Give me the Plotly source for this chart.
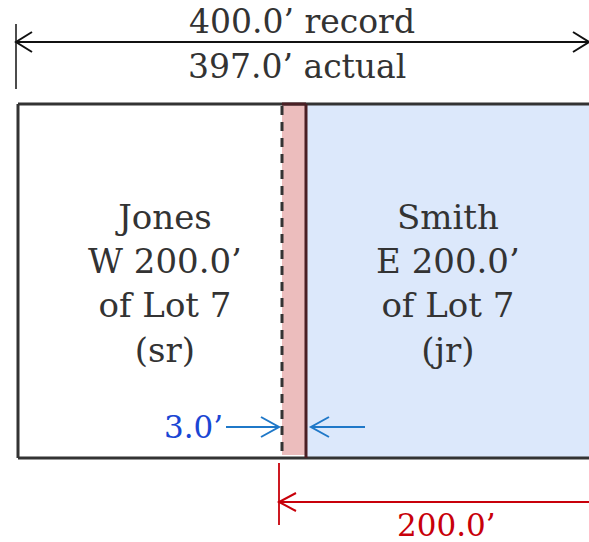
import plotly.graph_objects as go

# ---------------- content (values) ----------------
RECORD_WIDTH_FT = 400.0
ACTUAL_WIDTH_FT = 397.0
GAP_FT = 3.0
JUNIOR_MEASURE_FT = 200.0
OWNERS = ["Jones", "Smith"]
SIDES = ["W", "E"]
DEED_FT = [200.0, 200.0]
LOT_NUMBER = 7
PRIORITY = ["sr", "jr"]

# ---------------- diagram geometry (canvas units) ----------------
CANVAS_W, CANVAS_H = 589, 542
LOT_LEFT, LOT_RIGHT = 18, 610
LOT_TOP, LOT_BOTTOM = 104, 458
SENIOR_LINE_X = 282
JUNIOR_LINE_X = 306
OWNER_LABEL_X = [165, 448]
OWNER_LABEL_Y = 283

TOP_DIM_Y = 42
TOP_DIM_X = [16, 589]
TOP_TICK_Y = [24, 89]
BOT_DIM_Y = 502
BOT_DIM_X = [279, 600]
BOT_TICK_Y = [463, 525]
GAP_ARROW_Y = 427
GAP_LEFT_ARROW = [226, 279]
GAP_RIGHT_ARROW = [365, 311]

DARK = "#333333"
BROWN = "#4a1f24"
PINK = "#ecbdbd"
LIGHT_BLUE = "#dce8fb"
RED = "#c8000a"
BLUE_ARROW = "#1f78c8"
BLUE_TEXT = "#1a46d4"
FONT = "DejaVu Serif"
FS = 34

fig = go.Figure()
shapes = []


def line(x0, y0, x1, y1, color, width, dash="solid"):
    shapes.append(dict(type="line", xref="x", yref="y", x0=x0, y0=y0, x1=x1, y1=y1,
                       line=dict(color=color, width=width, dash=dash), layer="above"))


def head(tipx, tipy, direction, color, width, length=16, half=10):
    bx = tipx - direction * length
    shapes.append(dict(type="path", xref="x", yref="y",
                       path=f"M {bx},{tipy-half} L {tipx},{tipy} L {bx},{tipy+half}",
                       line=dict(color=color, width=width), layer="above"))


# fills
shapes.append(dict(type="rect", xref="x", yref="y", x0=JUNIOR_LINE_X, x1=LOT_RIGHT,
                   y0=LOT_TOP, y1=LOT_BOTTOM, fillcolor=LIGHT_BLUE, line=dict(width=0), layer="below"))
shapes.append(dict(type="rect", xref="x", yref="y", x0=SENIOR_LINE_X, x1=JUNIOR_LINE_X,
                   y0=LOT_TOP, y1=LOT_BOTTOM - 3, fillcolor=PINK, line=dict(width=0), layer="below"))

# lot outline
line(LOT_LEFT, LOT_TOP, LOT_RIGHT, LOT_TOP, DARK, 3)
line(LOT_LEFT, LOT_BOTTOM, LOT_RIGHT, LOT_BOTTOM, DARK, 3)
line(LOT_LEFT, LOT_TOP, LOT_LEFT, LOT_BOTTOM, DARK, 3)
line(SENIOR_LINE_X, LOT_TOP, JUNIOR_LINE_X, LOT_TOP, BROWN, 3)
line(SENIOR_LINE_X, LOT_TOP + 2, SENIOR_LINE_X, LOT_BOTTOM - 3, DARK, 3, "9px,7px")
line(JUNIOR_LINE_X, LOT_TOP, JUNIOR_LINE_X, LOT_BOTTOM, BROWN, 3)

# top dimension
line(TOP_DIM_X[0], TOP_TICK_Y[0], TOP_DIM_X[0], TOP_TICK_Y[1], "#111111", 1.5)
line(TOP_DIM_X[0], TOP_DIM_Y, TOP_DIM_X[1], TOP_DIM_Y, "#111111", 2)
head(TOP_DIM_X[0], TOP_DIM_Y, -1, "#111111", 2)
head(TOP_DIM_X[1], TOP_DIM_Y, 1, "#111111", 2)

# bottom dimension
line(BOT_DIM_X[0], BOT_TICK_Y[0], BOT_DIM_X[0], BOT_TICK_Y[1], RED, 1.8)
line(BOT_DIM_X[0], BOT_DIM_Y, BOT_DIM_X[1], BOT_DIM_Y, RED, 2)
head(BOT_DIM_X[0], BOT_DIM_Y, -1, RED, 2, 17, 9)

# gap arrows
line(GAP_LEFT_ARROW[0], GAP_ARROW_Y, GAP_LEFT_ARROW[1], GAP_ARROW_Y, BLUE_ARROW, 2)
head(GAP_LEFT_ARROW[1], GAP_ARROW_Y, 1, BLUE_ARROW, 2, 18, 10)
line(GAP_RIGHT_ARROW[0], GAP_ARROW_Y, GAP_RIGHT_ARROW[1], GAP_ARROW_Y, BLUE_ARROW, 2)
head(GAP_RIGHT_ARROW[1], GAP_ARROW_Y, -1, BLUE_ARROW, 2, 18, 10)

annotations = []


def text(x, y, s, color=DARK, size=FS, xanchor="center"):
    annotations.append(dict(x=x, y=y, xref="x", yref="y", text=s, showarrow=False,
                            xanchor=xanchor, yanchor="middle",
                            font=dict(family=FONT, size=size, color=color)))


text(302, 21, f"{RECORD_WIDTH_FT:.1f}’ record", size=33)
text(297, 66, f"{ACTUAL_WIDTH_FT:.1f}’ actual", size=33)
for i in range(2):
    text(OWNER_LABEL_X[i], OWNER_LABEL_Y,
         f"{OWNERS[i]}<br>{SIDES[i]} {DEED_FT[i]:.1f}’<br>of Lot {LOT_NUMBER}<br>({PRIORITY[i]})")
text(193, 427, f"{GAP_FT:.1f}’", color=BLUE_TEXT, size=31)
text(446, 525, f"{JUNIOR_MEASURE_FT:.1f}’", color=RED, size=31)

fig.update_layout(
    width=CANVAS_W, height=CANVAS_H,
    margin=dict(l=0, r=0, t=0, b=0),
    paper_bgcolor="white", plot_bgcolor="white",
    xaxis=dict(range=[0, CANVAS_W], visible=False, fixedrange=True),
    yaxis=dict(range=[CANVAS_H, 0], visible=False, fixedrange=True),
    shapes=shapes, annotations=annotations, showlegend=False,
)
fig.write_html("out.html", config={"displayModeBar": False},
               post_script="document.body.style.margin='0';document.body.style.overflow='hidden';")
